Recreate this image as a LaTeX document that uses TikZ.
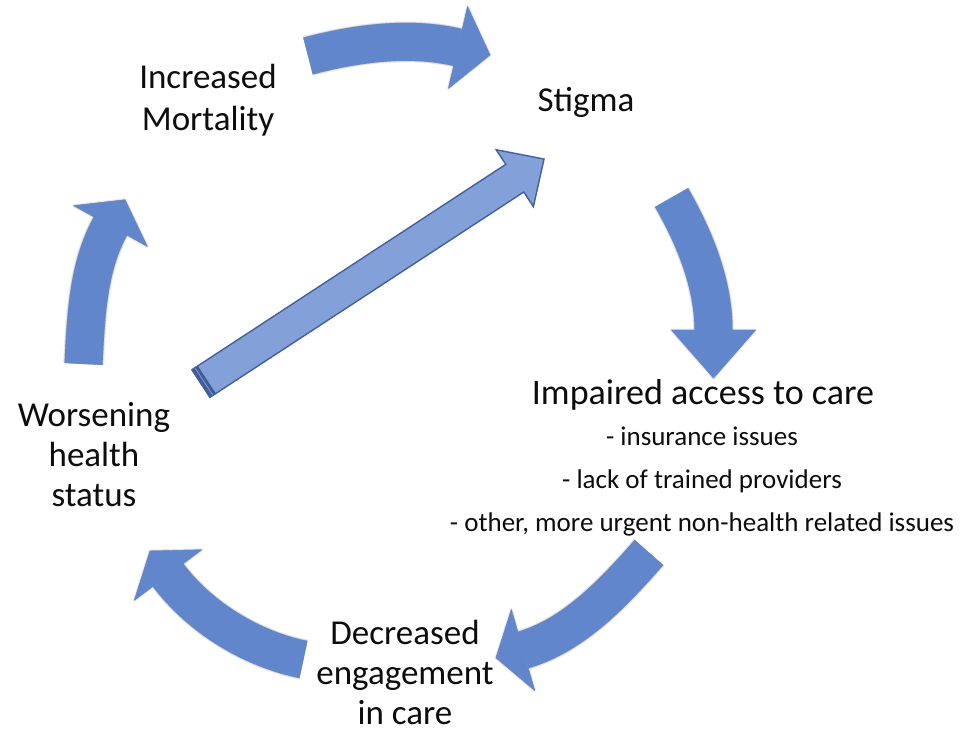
\documentclass[tikz,border=0pt]{standalone}
\usepackage{fontspec}
\setmainfont{Carlito}
\usetikzlibrary{calc}

\definecolor{cyclefill}{RGB}{97,134,204}
\definecolor{linkfill}{RGB}{131,161,216}
\definecolor{linkedge}{RGB}{66,96,156}
\definecolor{linkcap}{RGB}{64,92,150}

\tikzset{
  stagelabel/.style={font=\fontsize{35}{40}\selectfont, align=center, text=black!95, inner sep=0pt},
  notelabel/.style={font=\fontsize{27}{43}\selectfont, align=center, text=black!95, inner sep=0pt},
}

% Curved block arrow: body from <p>t to <p>b (controls <p>c1, <p>c2),
% triangular head from base centre <p>b to tip <p>p.
% #1 prefix, #2 body width, #3 extra outline width
\newcommand\cyclearrow[3]{%
  \draw[line width=#2, line cap=butt] (#1t) .. controls (#1c1) and (#1c2) .. (#1b);
  \filldraw[line width=#3, line join=round]
    ($(#1b)!42pt!90:(#1p)$) -- (#1p) -- ($(#1b)!42pt!-90:(#1p)$) -- cycle;
}

\begin{document}
\begin{tikzpicture}[x=1pt, y=-1pt]
\useasboundingbox[fill=white] (0,0) rectangle (963,732);

% arrow geometry
\coordinate (a1t) at (308,56);    \coordinate (a1c1) at (356.4,43.3);
\coordinate (a1c2) at (409.4,36.1); \coordinate (a1b) at (458,47.5);
\coordinate (a1p) at (490,55);

\coordinate (a2t) at (671.5,197.5); \coordinate (a2c1) at (694.5,237.4);
\coordinate (a2c2) at (713.5,284);  \coordinate (a2b) at (713.5,330);
\coordinate (a2p) at (713.5,378);

\coordinate (a3t) at (649,552.5);   \coordinate (a3c1) at (614,592.3);
\coordinate (a3c2) at (573.9,635.3); \coordinate (a3b) at (523,650);
\coordinate (a3p) at (496,657.8);

\coordinate (a4t) at (303.5,659.5); \coordinate (a4c1) at (251.6,649.1);
\coordinate (a4c2) at (199.8,617.4); \coordinate (a4b) at (168,575);
\coordinate (a4p) at (150,551);

\coordinate (a5t) at (83.5,364);    \coordinate (a5c1) at (86,317);
\coordinate (a5c2) at (87.7,267.1); \coordinate (a5b) at (110.5,226);
\coordinate (a5p) at (125,199.8);

% soft shadows, offset down and to the right
\foreach \a in {a1,a2,a3,a4,a5}{
  \begin{scope}[shift={(3,4)}, draw=black!7, fill=black!7]
    \cyclearrow{\a}{41pt}{3pt}
  \end{scope}
  \begin{scope}[shift={(2.5,3)}, draw=black!17, fill=black!17]
    \cyclearrow{\a}{39.5pt}{1.5pt}
  \end{scope}
  \begin{scope}[shift={(1.5,2)}, draw=black!32, fill=black!32]
    \cyclearrow{\a}{38pt}{0.4pt}
  \end{scope}
}
% cycle arrows
\foreach \a in {a1,a2,a3,a4,a5}{
  \begin{scope}[draw=cyclefill, fill=cyclefill]
    \cyclearrow{\a}{38pt}{0.4pt}
  \end{scope}
}

% straight link arrow
\begin{scope}[shift={(201,383.5)}, rotate=33.2]
  \coordinate (lkfrom) at (0,0);
  \coordinate (lkto) at (410,0);
  \filldraw[fill=linkfill, draw=linkedge, line width=1.4pt, line join=miter]
    (lkfrom) ++(0,-16.5) -- (375,-16.5) -- (375,-34) -- (lkto)
    -- (375,34) -- (375,16.5) -- (0,16.5) -- cycle;
  \fill[linkcap] (0,-16.5) rectangle (7,16.5);
  \draw[linkfill!80!linkedge, line width=1pt] (3.5,-16) -- (3.5,16);
  \draw[linkedge, line width=1.4pt] (0,-16.5) -- (0,16.5);
\end{scope}

% labels
\node[stagelabel, font=\fontsize{35}{42}\selectfont] (mort) at (208,100) {Increased\\Mortality};
\node[stagelabel] (stig) at (586,102) {Stigma};
\node[stagelabel, font=\fontsize{36}{40}\selectfont] (acc) at (703,395) {Impaired access to care};
\node[notelabel] (accnotes) at (702,482)
  {- insurance issues\\- lack of trained providers\\- other, more urgent non-health related issues};
\node[stagelabel] (dec) at (405,672) {Decreased\\engagement\\in care};
\node[stagelabel] (wors) at (94,455) {Worsening\\health\\status};
\end{tikzpicture}
\end{document}
